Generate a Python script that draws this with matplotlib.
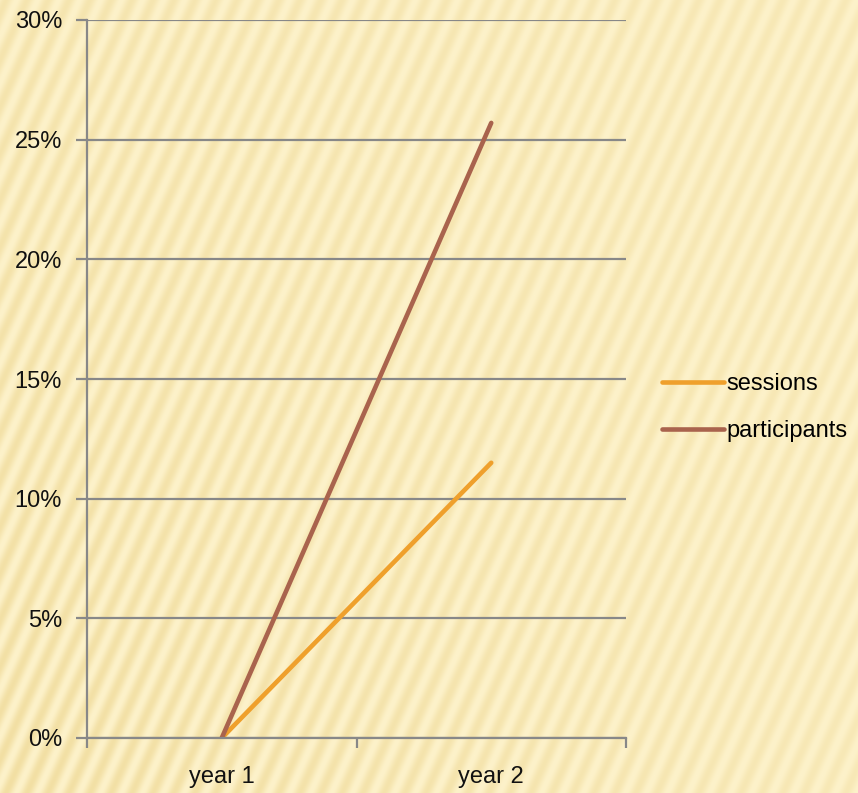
import numpy as np
import matplotlib.pyplot as plt

categories = ['year 1', 'year 2']
sessions = [0.0, 11.5]
participants = [0.0, 25.7]
y_ticks = [0, 5, 10, 15, 20, 25, 30]

plt.rcParams['font.family'] = ['Liberation Sans', 'DejaVu Sans']

fig = plt.figure(figsize=(8.58, 7.93), dpi=100)

# striped paper background
H, W = 793, 858
yy, xx = np.mgrid[0:H, 0:W]
u = xx + 0.45 * yy
stripe = 0.5 + 0.5 * np.sin(2 * np.pi * u / 21.0)
light = np.array([253, 242, 202]) / 255
dark = np.array([242, 223, 163]) / 255
fade = 0.5 + 0.5 * (1 - xx / W) * (0.4 + 0.6 * yy / H)
mix = (stripe * fade)[..., None]
bg = light * (1 - mix) + dark * mix
bg_ax = fig.add_axes([0, 0, 1, 1])
bg_ax.imshow(bg, aspect='auto', extent=[0, 1, 0, 1])
bg_ax.axis('off')

ax = fig.add_axes([87 / W, 55 / H, (626 - 87) / W, (738 - 20) / H])
ax.patch.set_alpha(0)

x = np.arange(len(categories))
ax.plot(x, sessions, color='#EFA02C', lw=3.3, label='sessions', solid_capstyle='round')
ax.plot(x, participants, color='#A9634D', lw=3.3, label='participants', solid_capstyle='round')

ax.set_xlim(-0.5, 1.5)
ax.set_ylim(0, 30)
ax.set_yticks(y_ticks)
ax.set_yticklabels([f'{v}%' for v in y_ticks])
ax.set_xticks(x)
ax.set_xticklabels(categories)
ax.set_xticks([-0.5, 0.5, 1.5], minor=True)
ax.tick_params(axis='x', which='major', length=0, pad=20, labelsize=17, labelcolor='#111111')
ax.tick_params(axis='x', which='minor', length=7, width=1.6, color='#888888', direction='out')
ax.tick_params(axis='y', length=8, width=1.6, color='#888888', pad=10, labelsize=17, labelcolor='#111111')

ax.grid(axis='y', color='#888888', lw=1.6)
ax.set_axisbelow(True)
for s in ['top', 'right']:
    ax.spines[s].set_visible(False)
for s in ['left', 'bottom']:
    ax.spines[s].set_color('#888888')
    ax.spines[s].set_linewidth(1.6)

ax.legend(loc='center left', bbox_to_anchor=(1.05, 0.46), frameon=False,
          fontsize=17, handlelength=2.6, handletextpad=0.1, labelspacing=1.05,
          borderaxespad=0)

fig.savefig('out.png', dpi=100)
